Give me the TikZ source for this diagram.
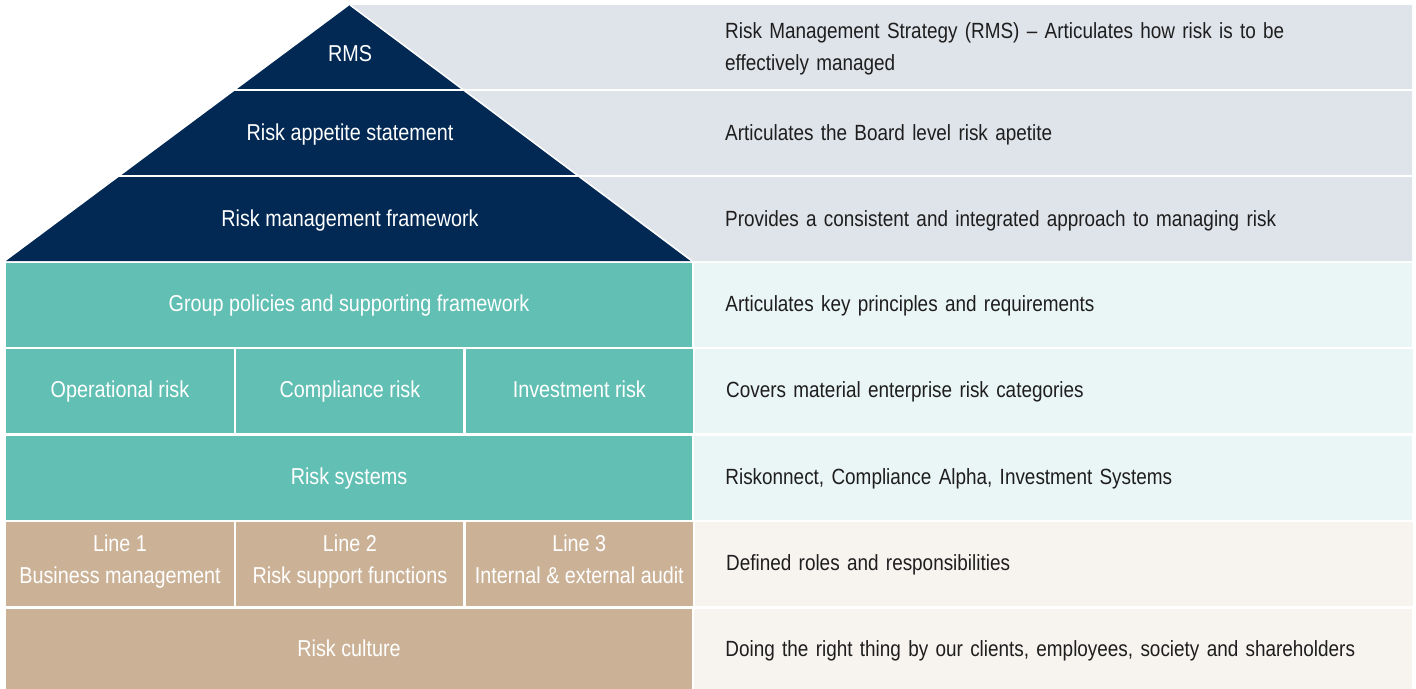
\documentclass[tikz,border=0pt]{standalone}
\usepackage{fontspec}
\setmainfont[FakeStretch=0.86]{Liberation Sans}
\usepackage{tikz}
\usetikzlibrary{positioning}
\definecolor{navy}{HTML}{022954}
\definecolor{teal}{HTML}{62BFB3}
\definecolor{tan}{HTML}{CBB297}
\definecolor{palegrey}{HTML}{DFE3EA}
\definecolor{paleteal}{HTML}{EAF6F5}
\definecolor{palesand}{HTML}{F7F3EF}
\definecolor{ink}{HTML}{1E1E1E}
\tikzstyle{cell} = [rectangle, inner sep=0pt, minimum height=84pt, text=white, align=center, font=\fontsize{23}{32}\selectfont, execute at begin node=\strut, execute at end node=\strut]
\tikzstyle{tealbox} = [cell, fill=teal]
\tikzstyle{tanbox} = [cell, fill=tan]
\tikzstyle{note} = [rectangle, inner xsep=31pt, inner ysep=0pt, minimum height=84pt, text width=656pt, align=left, text=ink, font=\fontsize{22}{32}\selectfont, execute at begin node=\strut, execute at end node=\strut]
\tikzstyle{topnote} = [note, minimum height=0pt, anchor=west, inner xsep=0pt]

\begin{document}
\begin{tikzpicture}[x=1pt, y=-1pt]
    \useasboundingbox (0,0) rectangle (1416,688);
    % Pyramid
    \fill[palegrey] (350,5) -- (1412,5) -- (1412,261) -- (692,261) -- cycle;
    \fill[navy] (350,5) -- (692,261) -- (6,261) -- cycle;
    \draw[white, line width=1.5pt] (350,5) -- (692,261);
    \draw[white, line width=2pt] (0,90) -- (1412,90);
    \draw[white, line width=2pt] (0,176) -- (1412,176);
    \node [cell, minimum height=0pt] (rms) at (350,55) {RMS};
    \node [cell, minimum height=0pt] (appetite) at (350,134) {Risk appetite statement};
    \node [cell, minimum height=0pt] (framework) at (350,220) {Risk management framework};
    \node [topnote] (rmsnote) at (725,48) {Risk Management Strategy (RMS) -- Articulates how risk is to be\\effectively managed};
    \node [topnote] (appetitenote) at (725,134) {Articulates the Board level risk apetite};
    \node [topnote] (frameworknote) at (725,220) {Provides a consistent and integrated approach to managing risk};
    % Blocks
    \node [tealbox, minimum width=686pt] (policies) at (349,305) {Group policies and supporting framework};
    \node [tealbox, minimum width=228pt, below=2pt of policies.south west, anchor=north west] (operational) {Operational risk};
    \node [tealbox, minimum width=227pt, right=2pt of operational] (compliance) {Compliance risk};
    \node [tealbox, minimum width=227pt, right=2pt of compliance] (investment) {Investment risk};
    \node [tealbox, minimum width=686pt, below=2pt of operational.south west, anchor=north west] (systems) {Risk systems};
    \node [tanbox, minimum width=228pt, below=2pt of systems.south west, anchor=north west] (line1) {Line 1\\Business management};
    \node [tanbox, minimum width=227pt, right=2pt of line1] (line2) {Line 2\\Risk support functions};
    \node [tanbox, minimum width=227pt, right=2pt of line2] (line3) {Line 3\\Internal \& external audit};
    \node [tanbox, minimum width=686pt, minimum height=82pt, below=2pt of line1.south west, anchor=north west] (culture) {Risk culture};
    % Notes
    \node [note, fill=paleteal, right=2pt of policies] (policiesnote) {Articulates key principles and requirements};
    \node [note, fill=paleteal, right=2pt of investment] (categoriesnote) {Covers material enterprise risk categories};
    \node [note, fill=paleteal, right=2pt of systems] (systemsnote) {Riskonnect, Compliance Alpha, Investment Systems};
    \node [note, fill=palesand, right=2pt of line3] (linesnote) {Defined roles and responsibilities};
    \node [note, fill=palesand, minimum height=82pt, right=2pt of culture] (culturenote) {Doing the right thing by our clients, employees, society and shareholders};
\end{tikzpicture}
\end{document}
